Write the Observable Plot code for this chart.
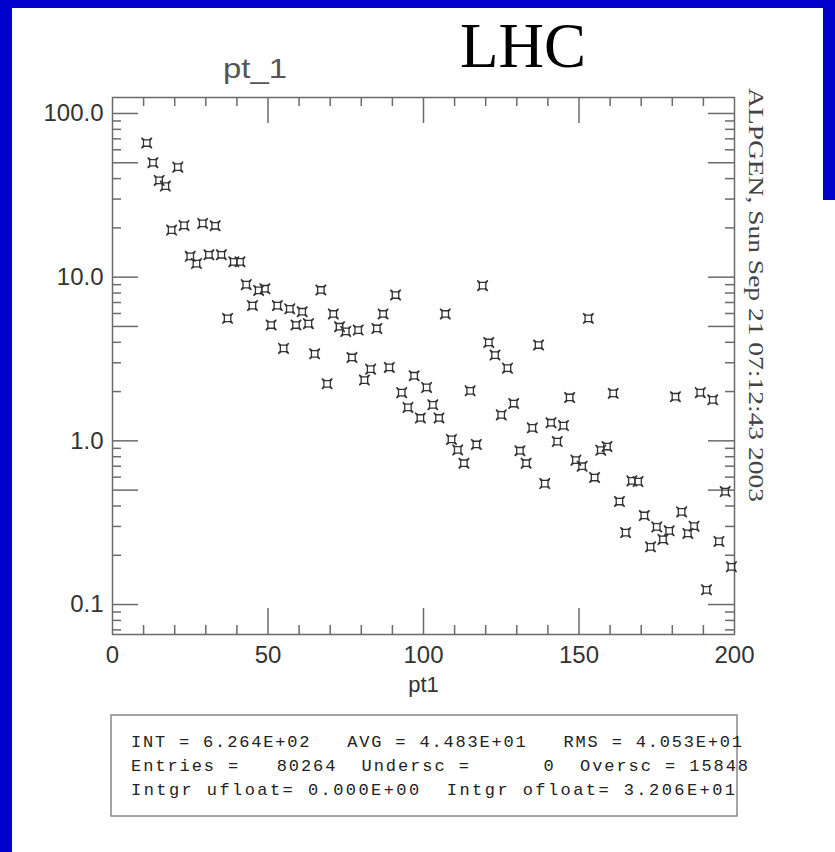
<!DOCTYPE html>
<html>
<head>
<meta charset="utf-8">
<script src="https://cdn.jsdelivr.net/npm/d3@7"></script>
<script src="https://cdn.jsdelivr.net/npm/@observablehq/plot@0.6"></script>
<style>
  html, body { margin: 0; padding: 0; background: #fff; }
  #page { position: relative; width: 835px; height: 852px; background: #fff; overflow: hidden; }
  .blue { position: absolute; background: #0000cc; }
  #chart { position: absolute; left: 0; top: 0; }
  #overlay { position: absolute; left: 0; top: 0; }
</style>
</head>
<body>
<div id="page">
  <div class="blue" style="left:0;top:0;width:12px;height:852px"></div>
  <div class="blue" style="left:0;top:0;width:835px;height:8px"></div>
  <div class="blue" style="left:823px;top:0;width:12px;height:200px"></div>
  <div id="chart"></div>
  <svg id="overlay" width="835" height="852" xmlns="http://www.w3.org/2000/svg"></svg>
</div>
<script>
// ---- data (histogram pt_1: bin centres and contents) ----
const binCenters = [11,13,15,17,19,21,23,25,27,29,31,33,35,37,39,41,43,45,47,49,
  51,53,55,57,59,61,63,65,67,69,71,73,75,77,79,81,83,85,87,89,
  91,93,95,97,99,101,103,105,107,109,111,113,115,117,119,121,123,125,127,129,
  131,133,135,137,139,141,143,145,147,149,151,153,155,157,159,161,163,165,167,169,
  171,173,175,177,179,181,183,185,187,189,191,193,195,197,199];
const binValues = [66,50,39,36,19.4,47,20.7,13.4,12.1,21.3,13.7,20.6,13.7,5.6,12.4,12.4,9.0,6.7,8.3,8.5,
  5.1,6.7,3.67,6.4,5.1,6.15,5.2,3.4,8.35,2.23,5.96,4.98,4.66,3.23,4.75,2.35,2.74,4.86,5.96,2.81,
  7.78,1.97,1.60,2.50,1.38,2.12,1.66,1.38,5.96,1.02,0.88,0.73,2.02,0.95,8.87,3.99,3.34,1.44,2.78,1.69,
  0.87,0.73,1.20,3.85,0.548,1.29,0.99,1.24,1.84,0.762,0.70,5.60,0.597,0.877,0.923,1.95,0.426,0.275,0.569,0.564,
  0.35,0.225,0.298,0.25,0.282,1.86,0.368,0.272,0.301,1.97,0.123,1.78,0.243,0.49,0.170];

// ---- axes ----
const xDomain = [0, 200];
const yDomain = [0.0656, 125.2];
const xLabelTicks = [0, 50, 100, 150, 200];
const xMajorTicks = [50, 100, 150];
const xMinorTicks = [10,20,30,40,60,70,80,90,110,120,130,140,160,170,180,190];
const yLabelTicks = [0.1, 0.5, 1, 5, 10, 50, 100];
const yMinorTicks = [0.07,0.08,0.09,0.2,0.3,0.4,0.6,0.7,0.8,0.9,2,3,4,6,7,8,9,20,30,40,60,70,80,90];
const xLabel = "pt1";
const histTitle = "pt_1";
const slideTitle = "LHC";
const sideNote = "ALPGEN, Sun Sep 21 07:12:43 2003";
const statsLines = [
  "INT = 6.264E+02   AVG = 4.483E+01   RMS = 4.053E+01",
  "Entries =   80264  Undersc =      0  Oversc = 15848",
  "Intgr ufloat= 0.000E+00  Intgr ofloat= 3.206E+01"
];

const data = binCenters.map((x, i) => ({x, y: binValues[i]}));

// square marker with pointed diagonal corners
const star4 = {
  draw(ctx, size) {
    const r = Math.sqrt(size / Math.PI);
    const a = 0.62 * r, b = 0.45 * r;
    ctx.moveTo(-r, -r);
    ctx.lineTo(-b, -a); ctx.lineTo(b, -a);
    ctx.lineTo(r, -r);
    ctx.lineTo(a, -b); ctx.lineTo(a, b);
    ctx.lineTo(r, r);
    ctx.lineTo(b, a); ctx.lineTo(-b, a);
    ctx.lineTo(-r, r);
    ctx.lineTo(-a, b); ctx.lineTo(-a, -b);
    ctx.closePath();
  }
};

const W = 835, H = 700;
const mL = 112, mR = 101, mT = 97, mB = 66;
const fw = W - mL - mR, fh = H - mT - mB;
const tickCol = "#6a6a6a";
const majorLen = 26, minorLen = 9;

const chart = Plot.plot({
  width: W, height: H,
  marginLeft: mL, marginRight: mR, marginTop: mT, marginBottom: mB,
  style: {background: "transparent", fontFamily: "'Liberation Sans', Arial, sans-serif", fontSize: "24px", color: "#333", overflow: "visible"},
  x: {domain: xDomain, label: null},
  y: {type: "log", domain: yDomain, label: null},
  marks: [
    Plot.ruleY(yLabelTicks, {y: d => d, stroke: tickCol, strokeWidth: 1.5, insetRight: fw - majorLen}),
    Plot.ruleY(yLabelTicks, {y: d => d, stroke: tickCol, strokeWidth: 1.5, insetLeft: fw - majorLen}),
    Plot.ruleY(yMinorTicks, {y: d => d, stroke: tickCol, strokeWidth: 1.5, insetRight: fw - minorLen}),
    Plot.ruleY(yMinorTicks, {y: d => d, stroke: tickCol, strokeWidth: 1.5, insetLeft: fw - minorLen}),
    Plot.ruleX(xMajorTicks, {x: d => d, stroke: tickCol, strokeWidth: 1.5, insetTop: fh - majorLen}),
    Plot.ruleX(xMajorTicks, {x: d => d, stroke: tickCol, strokeWidth: 1.5, insetBottom: fh - majorLen}),
    Plot.ruleX(xMinorTicks, {x: d => d, stroke: tickCol, strokeWidth: 1.5, insetTop: fh - minorLen}),
    Plot.ruleX(xMinorTicks, {x: d => d, stroke: tickCol, strokeWidth: 1.5, insetBottom: fh - minorLen}),
    Plot.frame({stroke: tickCol, strokeWidth: 1.5}),
    Plot.axisY({ticks: yLabelTicks, tickSize: 0, tickPadding: 9, tickFormat: d => d.toFixed(1), fontSize: 24, fill: "#333"}),
    Plot.axisX({ticks: xLabelTicks, tickSize: 0, tickPadding: 11, tickFormat: d => String(d), fontSize: 24, fill: "#333", label: null}),
    Plot.text([xLabel], {text: d => d, frameAnchor: "bottom", dy: 57, fontSize: 22, fill: "#333"}),
    Plot.dot(data, {x: "x", y: "y", symbol: star4, r: 5.2, stroke: "#333", strokeWidth: 1.3, fill: "none"})
  ]
});
document.getElementById("chart").appendChild(chart);

// ---- overlay texts ----
const ns = "http://www.w3.org/2000/svg";
const ov = document.getElementById("overlay");
function el(tag, attrs, text) {
  const e = document.createElementNS(ns, tag);
  for (const k in attrs) e.setAttribute(k, attrs[k]);
  if (text != null) e.textContent = text;
  ov.appendChild(e);
  return e;
}
el("text", {x: 523, y: 67, "text-anchor": "middle", "font-family": "'Liberation Serif', 'Times New Roman', serif", "font-size": 64, fill: "#000", textLength: 126, lengthAdjust: "spacingAndGlyphs"}, slideTitle);
el("text", {x: 223, y: 78, "font-family": "'Liberation Sans', Arial, sans-serif", "font-size": 28, fill: "#555", textLength: 64, lengthAdjust: "spacingAndGlyphs"}, histTitle);
el("text", {transform: "translate(749,88) rotate(90)", "font-family": "'Liberation Serif', 'Times New Roman', serif", "font-size": 21, fill: "#444", textLength: 414, lengthAdjust: "spacingAndGlyphs"}, sideNote);
el("rect", {x: 111, y: 715, width: 626, height: 101, fill: "none", stroke: "#888", "stroke-width": 1.5});
const lens = [611, 617, 604];
const ys = [747, 771, 795];
statsLines.forEach((s, i) => {
  el("text", {x: 131, y: ys[i], "font-family": "'Liberation Mono', 'DejaVu Sans Mono', monospace", "font-size": 17, fill: "#222", textLength: lens[i], lengthAdjust: "spacing", style: "white-space:pre"}, s);
});
</script>
</body>
</html>
